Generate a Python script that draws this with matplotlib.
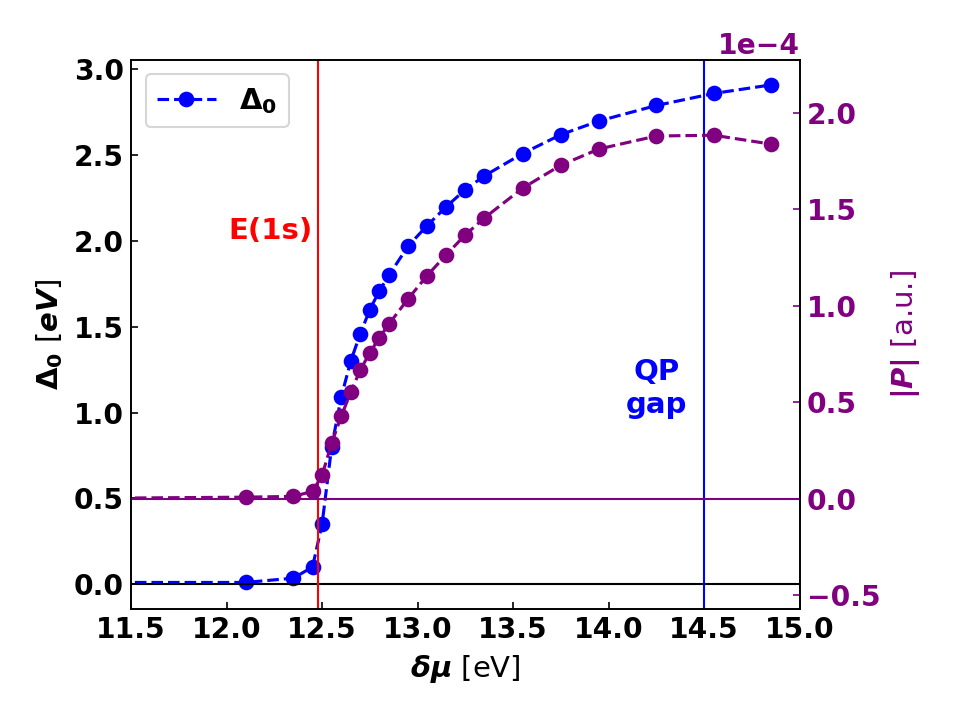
import matplotlib
matplotlib.use("Agg")
import matplotlib.pyplot as plt
import numpy as np

# data
delta_mu = [11.0, 12.10, 12.35, 12.45, 12.50, 12.55, 12.60, 12.65, 12.70, 12.75, 12.80,
            12.85, 12.95, 13.05, 13.15, 13.25, 13.35, 13.55, 13.75, 13.95,
            14.25, 14.55, 14.85]
delta0 = [0.01, 0.01, 0.035, 0.10, 0.35, 0.80, 1.09, 1.30, 1.46, 1.60, 1.71,
          1.80, 1.97, 2.09, 2.20, 2.30, 2.38, 2.51, 2.62, 2.70,
          2.79, 2.86, 2.91]
pol = [0.00, 0.008, 0.012, 0.038, 0.121, 0.288, 0.426, 0.552, 0.667, 0.756, 0.834,
       0.905, 1.035, 1.156, 1.264, 1.367, 1.455, 1.609, 1.728, 1.812,
       1.879, 1.883, 1.837]
pol = [p * 1e-4 for p in pol]
e1s = 12.48
qp_gap = 14.50
xticks = [11.5, 12.0, 12.5, 13.0, 13.5, 14.0, 14.5, 15.0]
yticks_left = [0.0, 0.5, 1.0, 1.5, 2.0, 2.5, 3.0]
yticks_right = [-0.5e-4, 0.0, 0.5e-4, 1.0e-4, 1.5e-4, 2.0e-4]

purple = '#800080'
FS = 13.5
LFS = 14

fig, ax1 = plt.subplots(figsize=(6.4, 4.8), dpi=150)
fig.subplots_adjust(left=0.1365, right=0.833, bottom=0.154, top=0.917)

ax1.plot(delta_mu, delta0, '--o', color='blue', lw=1.5, ms=6.5, label=r'$\mathbf{\Delta_0}$')
ax1.axhline(0, color='black', lw=1)
ax1.axvline(e1s, color='red', lw=1)
ax1.axvline(qp_gap, color='blue', lw=1)
ax1.set_xlim(11.5, 15.0)
ax1.set_ylim(-0.1455, 3.0565)
ax1.set_xticks(xticks)
ax1.set_yticks(yticks_left)
ax1.tick_params(direction='in', labelsize=FS)
for lab in ax1.get_xticklabels() + ax1.get_yticklabels():
    lab.set_fontweight('bold')
ax1.set_xlabel(r'$\boldsymbol{\delta\mu}$ [eV]', fontsize=LFS)
ax1.set_ylabel(r'$\mathbf{\Delta_0}$ [$\boldsymbol{eV}$]', fontsize=LFS)
ax1.text(12.23, 2.06, 'E(1s)', color='red', fontsize=LFS, fontweight='bold',
         ha='center', va='center')
ax1.text(14.25, 1.14, 'QP\ngap', color='blue', fontsize=LFS, fontweight='bold',
         ha='center', va='center', linespacing=1.25)
ax1.legend(loc='upper left', fontsize=LFS)

ax2 = ax1.twinx()
ax2.plot(delta_mu, pol, '--o', color=purple, lw=1.5, ms=6.5)
ax2.axhline(0, color=purple, lw=1)
ax2.set_ylim(-0.572e-4, 2.274e-4)
ax2.set_yticks(yticks_right)
ax2.ticklabel_format(axis='y', style='sci', scilimits=(-3, 3))
ax2.tick_params(direction='in', labelsize=FS, colors=purple)
ax2.set_ylabel(r'$\boldsymbol{|P|}$ [a.u.]', fontsize=LFS, color=purple)
ax2.spines['right'].set_color('black')
fig.canvas.draw()
off = ax2.yaxis.get_offset_text()
off.set_fontweight('bold')
off.set_fontsize(FS)
off.set_color(purple)
for lab in ax2.get_yticklabels():
    lab.set_fontweight('bold')

fig.savefig('out.png', dpi=150)
